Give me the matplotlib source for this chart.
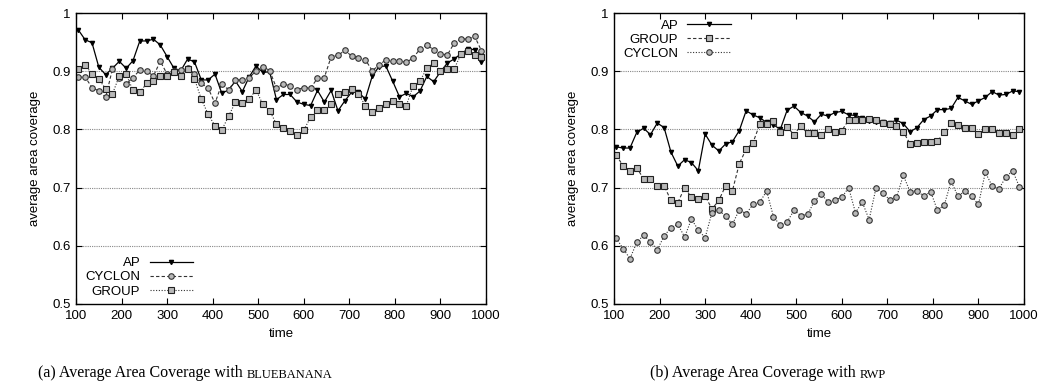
import matplotlib
matplotlib.use("Agg")
import matplotlib.pyplot as plt
from matplotlib.ticker import FormatStrFormatter

plt.rcParams['font.family'] = ['Liberation Sans', 'DejaVu Sans']

# sample times (same for every series)
time = [105, 120, 135, 150, 165, 180, 195, 210, 225, 240,
        255, 270, 285, 300, 315, 330, 345, 360, 375, 390,
        405, 420, 435, 450, 465, 480, 495, 510, 525, 540,
        555, 570, 585, 600, 615, 630, 645, 660, 675, 690,
        705, 720, 735, 750, 765, 780, 795, 810, 825, 840,
        855, 870, 885, 900, 915, 930, 945, 960, 975, 990]

# (a) BLUEBANANA
bb_ap = [0.971, 0.954, 0.949, 0.907, 0.894, 0.905, 0.917, 0.905, 0.918, 0.952,
         0.952, 0.955, 0.945, 0.925, 0.905, 0.901, 0.921, 0.916, 0.885, 0.885,
         0.895, 0.862, 0.868, 0.883, 0.865, 0.890, 0.909, 0.898, 0.899, 0.851,
         0.860, 0.860, 0.847, 0.843, 0.841, 0.867, 0.847, 0.867, 0.832, 0.849,
         0.864, 0.864, 0.852, 0.891, 0.908, 0.909, 0.883, 0.856, 0.862, 0.856,
         0.866, 0.891, 0.882, 0.899, 0.914, 0.921, 0.930, 0.938, 0.937, 0.915]
bb_cyclon = [0.890, 0.890, 0.872, 0.866, 0.855, 0.904, 0.889, 0.878, 0.889, 0.902,
             0.900, 0.892, 0.917, 0.895, 0.901, 0.902, 0.905, 0.895, 0.879, 0.871,
             0.845, 0.878, 0.868, 0.885, 0.885, 0.888, 0.901, 0.908, 0.901, 0.871,
             0.878, 0.875, 0.868, 0.872, 0.871, 0.888, 0.889, 0.925, 0.927, 0.936,
             0.926, 0.923, 0.920, 0.901, 0.910, 0.920, 0.917, 0.918, 0.915, 0.923,
             0.938, 0.945, 0.937, 0.930, 0.928, 0.948, 0.956, 0.955, 0.960, 0.935]
bb_group = [0.903, 0.911, 0.895, 0.886, 0.870, 0.861, 0.892, 0.895, 0.867, 0.864,
            0.879, 0.884, 0.892, 0.891, 0.899, 0.891, 0.904, 0.887, 0.852, 0.826,
            0.806, 0.799, 0.823, 0.847, 0.845, 0.852, 0.868, 0.843, 0.832, 0.809,
            0.803, 0.797, 0.791, 0.799, 0.821, 0.833, 0.834, 0.844, 0.861, 0.865,
            0.870, 0.861, 0.841, 0.830, 0.837, 0.843, 0.848, 0.844, 0.841, 0.875,
            0.883, 0.905, 0.914, 0.901, 0.904, 0.904, 0.929, 0.934, 0.928, 0.925]

# (b) RWP
rwp_ap = [0.770, 0.768, 0.768, 0.795, 0.802, 0.791, 0.811, 0.803, 0.761, 0.737,
          0.748, 0.743, 0.729, 0.792, 0.773, 0.763, 0.775, 0.779, 0.798, 0.832,
          0.825, 0.820, 0.812, 0.808, 0.800, 0.833, 0.840, 0.829, 0.823, 0.813,
          0.826, 0.823, 0.829, 0.831, 0.825, 0.824, 0.820, 0.815, 0.813, 0.812,
          0.811, 0.816, 0.810, 0.796, 0.803, 0.817, 0.823, 0.834, 0.834, 0.836,
          0.855, 0.849, 0.843, 0.849, 0.855, 0.865, 0.859, 0.860, 0.866, 0.865]
rwp_group = [0.756, 0.737, 0.729, 0.734, 0.715, 0.715, 0.703, 0.703, 0.678, 0.674,
             0.700, 0.683, 0.681, 0.686, 0.663, 0.678, 0.703, 0.695, 0.741, 0.766,
             0.777, 0.809, 0.809, 0.815, 0.796, 0.804, 0.791, 0.806, 0.793, 0.793,
             0.790, 0.800, 0.795, 0.798, 0.816, 0.816, 0.817, 0.818, 0.816, 0.811,
             0.809, 0.805, 0.796, 0.775, 0.777, 0.779, 0.779, 0.780, 0.795, 0.811,
             0.807, 0.803, 0.803, 0.792, 0.801, 0.800, 0.794, 0.794, 0.790, 0.801]
rwp_cyclon = [0.613, 0.595, 0.578, 0.606, 0.618, 0.607, 0.593, 0.617, 0.631, 0.637,
              0.615, 0.646, 0.627, 0.614, 0.657, 0.661, 0.651, 0.637, 0.662, 0.655,
              0.671, 0.675, 0.694, 0.650, 0.635, 0.641, 0.661, 0.652, 0.654, 0.677,
              0.689, 0.675, 0.679, 0.683, 0.700, 0.657, 0.675, 0.645, 0.699, 0.691,
              0.679, 0.683, 0.721, 0.693, 0.695, 0.685, 0.693, 0.661, 0.670, 0.711,
              0.685, 0.694, 0.685, 0.671, 0.726, 0.703, 0.698, 0.718, 0.729, 0.701]

ap_style = dict(color='black', lw=0.9, ls='-', marker='v', ms=3,
                mfc='black', mec='black')
circle_style = dict(color='#333333', lw=0.8, marker='o', ms=4,
                    mfc='#b8b8b8', mec='#333333', mew=0.8)
square_style = dict(color='#333333', lw=0.8, marker='s', ms=4,
                    mfc='#b8b8b8', mec='#222222', mew=0.8)
dashed = (0, (3, 2))
dotted = (0, (1, 1.5))

fig = plt.figure(figsize=(10.43, 3.92), dpi=100)
ax1 = fig.add_axes([0.0729, 0.2245, 0.3931, 0.7423])
ax2 = fig.add_axes([0.5887, 0.2245, 0.3931, 0.7423])


def style_axes(ax):
    ax.set_xlim(100, 1000)
    ax.set_ylim(0.5, 1.0)
    ax.set_xticks(range(100, 1001, 100))
    ax.set_yticks([0.5, 0.6, 0.7, 0.8, 0.9, 1.0])
    ax.yaxis.set_major_formatter(FormatStrFormatter('%g'))
    ax.tick_params(direction='in', top=True, right=True, length=4,
                   width=0.8, labelsize=9.5, pad=4)
    for y in [0.6, 0.7, 0.8, 0.9]:
        ax.axhline(y, color='#888888', lw=0.8, ls=(0, (1, 1)), zorder=0)
    for s in ax.spines.values():
        s.set_linewidth(1.0)
    ax.set_xlabel('time', fontsize=9.5, labelpad=5)
    ax.set_ylabel('average area coverage', fontsize=9.5, labelpad=8)


style_axes(ax1)
ax1.plot(time, bb_ap, label='AP', **ap_style)
ax1.plot(time, bb_cyclon, label='CYCLON', ls=dashed, **circle_style)
ax1.plot(time, bb_group, label='GROUP', ls=dotted, **square_style)
ax1.legend(loc='lower left', bbox_to_anchor=(0.0, -0.01), frameon=False,
           markerfirst=False, fontsize=9.5, handlelength=3.3, numpoints=1,
           labelspacing=0.15, handletextpad=0.7, borderaxespad=0.3)

style_axes(ax2)
ax2.plot(time, rwp_ap, label='AP', **ap_style)
ax2.plot(time, rwp_group, label='GROUP', ls=dashed, **square_style)
ax2.plot(time, rwp_cyclon, label='CYCLON', ls=dotted, **circle_style)
ax2.legend(loc='upper left', bbox_to_anchor=(0.0, 1.01), frameon=False,
           markerfirst=False, fontsize=9.5, handlelength=3.3, numpoints=1,
           labelspacing=0.15, handletextpad=0.7, borderaxespad=0.3)

# captions with small-caps names
serif = ['Liberation Serif', 'DejaVu Serif']
t1 = fig.text(0.036, 0.037, '(a) Average Area Coverage with ', family=serif,
              fontsize=11.5, ha='left', va='baseline')
ax1.annotate('BLUEBANANA', xy=(1, 0), xycoords=t1, family=serif, fontsize=9,
             ha='left', va='bottom', annotation_clip=False)
t2 = fig.text(0.623, 0.037, '(b) Average Area Coverage with ', family=serif,
              fontsize=11.5, ha='left', va='baseline')
ax2.annotate('RWP', xy=(1, 0), xycoords=t2, family=serif, fontsize=9,
             ha='left', va='bottom', annotation_clip=False)

fig.savefig('out.png', dpi=100)
